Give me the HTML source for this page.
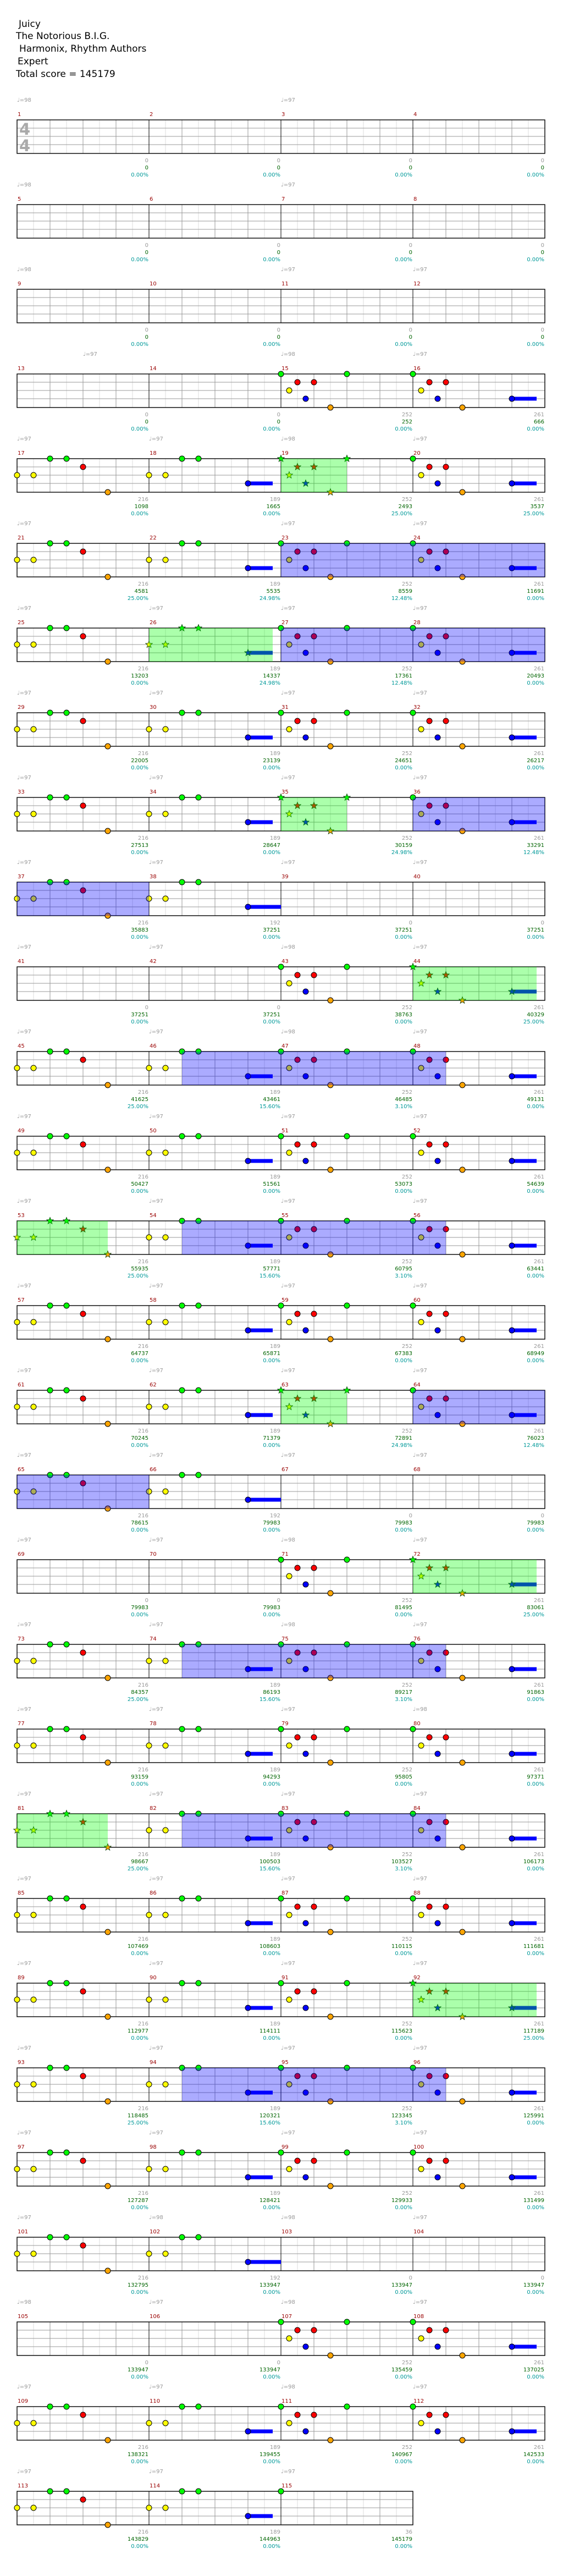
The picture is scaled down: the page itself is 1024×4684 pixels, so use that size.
<!DOCTYPE html>
<html><head><meta charset="utf-8">
<style>
html,body{margin:0;padding:0;background:#fff;}
body{width:1024px;height:4684px;overflow:hidden;}
svg{display:block;}
svg text{font-family:"DejaVu Sans","Liberation Sans",sans-serif;}
</style></head>
<body>
<div id="c"></div>
<script>
(function(){
var L=31,MW=240,EW=30,PITCH=154;
var out=[];
out.push('<svg xmlns="http://www.w3.org/2000/svg" width="1024" height="4684" viewBox="0 0 1024 4684">');
out.push('<rect width="1024" height="4684" fill="#fff"/>');
var tl=[["Juicy",34,49],["The Notorious B.I.G.",29,71],["Harmonix, Rhythm Authors",35,94],["Expert",32,117],["Total score = 145179",29,140]];
tl.forEach(function(t){out.push('<text x="'+t[1]+'" y="'+t[2]+'" font-size="17" fill="#000">'+t[0]+'</text>');});

var LY={G:0,R:15,Y:30,B:45,O:61};
var COL={G:"#00ff00",R:"#ff0000",Y:"#ffff00",B:"#0000ff",O:"#ffa500"};
var A=[['Y',0],['Y',1],['G',2],['G',3],['R',4],['O',5.5]];
var B=[['Y',0],['Y',1],['G',2],['G',3],['B',6,7.5]];
var Bp=[['Y',0],['Y',1],['G',2],['G',3],['B',6,8]];
var C=[['G',0],['Y',0.5],['R',1],['B',1.5],['R',2],['O',3],['G',4]];
var D=[['G',0],['Y',0.5],['R',1],['B',1.5],['R',2],['O',3],['B',6,7.5]];
var F=[['G',0]];
var N=null;
var pat={};
for(var m=1;m<=14;m++)pat[m]=N;
pat[15]=C;pat[16]=D;
function abcd(s){pat[s]=A;pat[s+1]=B;pat[s+2]=C;pat[s+3]=D;}
[17,21,25,29,33,45,49,53,57,61,73,77,81,85,89,93,97,109].forEach(abcd);
pat[37]=A;pat[38]=Bp;pat[39]=N;pat[40]=N;
pat[41]=N;pat[42]=N;pat[43]=C;pat[44]=D;
pat[65]=A;pat[66]=Bp;pat[67]=N;pat[68]=N;
pat[69]=N;pat[70]=N;pat[71]=C;pat[72]=D;
pat[101]=A;pat[102]=Bp;pat[103]=N;pat[104]=N;
pat[105]=N;pat[106]=N;pat[107]=C;pat[108]=D;
pat[113]=A;pat[114]=B;pat[115]=F;
var stars={19:1,26:1,35:1,44:1,53:1,63:1,72:1,81:1,92:1};

var S={};
for(m=1;m<=14;m++)S[m]=[0,0,"0.00%"];
var sd=[
[15,252,252,"0.00%"],[16,261,666,"0.00%"],
[17,216,1098,"0.00%"],[18,189,1665,"0.00%"],[19,252,2493,"25.00%"],[20,261,3537,"25.00%"],
[21,216,4581,"25.00%"],[22,189,5535,"24.98%"],[23,252,8559,"12.48%"],[24,261,11691,"0.00%"],
[25,216,13203,"0.00%"],[26,189,14337,"24.98%"],[27,252,17361,"12.48%"],[28,261,20493,"0.00%"],
[29,216,22005,"0.00%"],[30,189,23139,"0.00%"],[31,252,24651,"0.00%"],[32,261,26217,"0.00%"],
[33,216,27513,"0.00%"],[34,189,28647,"0.00%"],[35,252,30159,"24.98%"],[36,261,33291,"12.48%"],
[37,216,35883,"0.00%"],[38,192,37251,"0.00%"],[39,0,37251,"0.00%"],[40,0,37251,"0.00%"],
[41,0,37251,"0.00%"],[42,0,37251,"0.00%"],[43,252,38763,"0.00%"],[44,261,40329,"25.00%"],
[45,216,41625,"25.00%"],[46,189,43461,"15.60%"],[47,252,46485,"3.10%"],[48,261,49131,"0.00%"],
[49,216,50427,"0.00%"],[50,189,51561,"0.00%"],[51,252,53073,"0.00%"],[52,261,54639,"0.00%"],
[53,216,55935,"25.00%"],[54,189,57771,"15.60%"],[55,252,60795,"3.10%"],[56,261,63441,"0.00%"],
[57,216,64737,"0.00%"],[58,189,65871,"0.00%"],[59,252,67383,"0.00%"],[60,261,68949,"0.00%"],
[61,216,70245,"0.00%"],[62,189,71379,"0.00%"],[63,252,72891,"24.98%"],[64,261,76023,"12.48%"],
[65,216,78615,"0.00%"],[66,192,79983,"0.00%"],[67,0,79983,"0.00%"],[68,0,79983,"0.00%"],
[69,0,79983,"0.00%"],[70,0,79983,"0.00%"],[71,252,81495,"0.00%"],[72,261,83061,"25.00%"],
[73,216,84357,"25.00%"],[74,189,86193,"15.60%"],[75,252,89217,"3.10%"],[76,261,91863,"0.00%"],
[77,216,93159,"0.00%"],[78,189,94293,"0.00%"],[79,252,95805,"0.00%"],[80,261,97371,"0.00%"],
[81,216,98667,"25.00%"],[82,189,100503,"15.60%"],[83,252,103527,"3.10%"],[84,261,106173,"0.00%"],
[85,216,107469,"0.00%"],[86,189,108603,"0.00%"],[87,252,110115,"0.00%"],[88,261,111681,"0.00%"],
[89,216,112977,"0.00%"],[90,189,114111,"0.00%"],[91,252,115623,"0.00%"],[92,261,117189,"25.00%"],
[93,216,118485,"25.00%"],[94,189,120321,"15.60%"],[95,252,123345,"3.10%"],[96,261,125991,"0.00%"],
[97,216,127287,"0.00%"],[98,189,128421,"0.00%"],[99,252,129933,"0.00%"],[100,261,131499,"0.00%"],
[101,216,132795,"0.00%"],[102,192,133947,"0.00%"],[103,0,133947,"0.00%"],[104,0,133947,"0.00%"],
[105,0,133947,"0.00%"],[106,0,133947,"0.00%"],[107,252,135459,"0.00%"],[108,261,137025,"0.00%"],
[109,216,138321,"0.00%"],[110,189,139455,"0.00%"],[111,252,140967,"0.00%"],[112,261,142533,"0.00%"],
[113,216,143829,"0.00%"],[114,189,144963,"0.00%"],[115,36,145179,"0.00%"]];
sd.forEach(function(d){S[d[0]]=[d[1],d[2],d[3]];});

var T=[];
T[0]=[[0,98],[2,97]];
T[1]=[[0,98],[2,97]];
T[2]=[[0,98],[2,97],[3,97]];
T[3]=[[0.5,97],[2,98],[3,97]];
T[4]=[[0,97],[1,97],[2,98],[3,97]];
T[5]=[[0,97],[2,97],[3,97]];
for(var r=6;r<=28;r++)T[r]=[[0,97],[1,97],[2,97],[3,97]];
T[10]=[[0,97],[1,97],[2,98],[3,97]];
T[11]=[[0,97],[1,97],[2,98],[3,97]];
T[17]=[[0,97],[1,97],[2,98],[3,97]];
T[18]=[[0,97],[1,97],[2,98],[3,97]];
T[19]=[[0,97],[1,97],[2,97],[3,98]];
T[25]=[[0,97],[1,98],[2,98],[3,97]];
T[26]=[[0,98],[1,97],[2,98],[3,97]];
T[27]=[[0,97],[1,97],[2,98],[3,97]];
T[28]=[[0,97],[1,97],[2,97]];

var regs=[
[19,0,19,4,'g'],[26,0,26,7.5,'g'],[35,0,35,4,'g'],[44,0,44,7.5,'g'],[53,0,53,5.5,'g'],[63,0,63,4,'g'],[72,0,72,7.5,'g'],[81,0,81,5.5,'g'],[92,0,92,7.5,'g'],
[23,0,24,8,'b'],[27,0,28,8,'b'],[36,0,36,8,'b'],[37,0,37,8,'b'],[46,2,48,2,'b'],[54,2,56,2,'b'],[64,0,64,8,'b'],[65,0,65,8,'b'],[74,2,76,2,'b'],[82,2,84,2,'b'],[94,2,96,2,'b']];

function mx(m){return L+((m-1)%4)*MW;}
function rowTop(m){return 218+Math.floor((m-1)/4)*PITCH;}
function star(cx,cy,fill){
  var p=[];for(var i=0;i<10;i++){var a=-Math.PI/2+i*Math.PI/5;var rr=i%2?2.7:6.5;p.push((cx+rr*Math.cos(a)).toFixed(1)+','+(cy+rr*Math.sin(a)).toFixed(1));}
  return '<polygon points="'+p.join(' ')+'" fill="'+fill+'" stroke="#003300" stroke-width="0.8"/>';
}

for(r=0;r<=28;r++){
  var top=218+r*PITCH;
  var nm=(r==28)?3:4;
  var w=nm*MW;
  T[r].forEach(function(t){
    var x=L+t[0]*MW;
    out.push('<text x="'+x+'" y="'+(top-33)+'" font-size="10" fill="#999">\u2669=<tspan>'+t[1]+'</tspan></text>');
  });
  for(var i=1;i<nm*8;i++){
    var x=L+i*EW;
    if(i%8==0)continue;
    var c=(i%2==0)?"#999":"#dcdcdc";
    out.push('<line x1="'+x+'" y1="'+top+'" x2="'+x+'" y2="'+(top+61)+'" stroke="'+c+'" stroke-width="1"/>');
  }
  [15,30,45].forEach(function(dy){out.push('<line x1="'+L+'" y1="'+(top+dy)+'" x2="'+(L+w)+'" y2="'+(top+dy)+'" stroke="#999" stroke-width="1"/>');});
  for(i=1;i<nm;i++){var x2=L+i*MW;out.push('<line x1="'+x2+'" y1="'+top+'" x2="'+x2+'" y2="'+(top+61)+'" stroke="#000" stroke-width="1"/>');}
  out.push('<rect x="'+L+'" y="'+top+'" width="'+w+'" height="61" fill="none" stroke="#000" stroke-width="1.4"/>');
  if(r==0){
    out.push('<text x="35" y="245" font-size="29" font-weight="bold" fill="#aaa">4</text>');
    out.push('<text x="35" y="275" font-size="29" font-weight="bold" fill="#aaa">4</text>');
  }
  for(var k=0;k<nm;k++){
    var m=r*4+k+1;
    var x0=L+k*MW;
    out.push('<text x="'+(x0+1)+'" y="'+(top-7)+'" font-size="10" fill="#990000">'+m+'</text>');
    var s=S[m];
    var xe=x0+MW-1;
    out.push('<text x="'+xe+'" y="'+(top+77)+'" font-size="10" fill="#999" text-anchor="end">'+s[0]+'</text>');
    out.push('<text x="'+xe+'" y="'+(top+90)+'" font-size="10" fill="#006400" text-anchor="end">'+s[1]+'</text>');
    out.push('<text x="'+xe+'" y="'+(top+103)+'" font-size="10" fill="#009999" text-anchor="end">'+s[2]+'</text>');
    var p=pat[m];
    if(!p)continue;
    p.forEach(function(n){
      if(n[2]!==undefined){
        var xa=x0+n[1]*EW,xb=x0+n[2]*EW,y=top+LY[n[0]];
        out.push('<rect x="'+xa+'" y="'+(y-3.5)+'" width="'+(xb-xa)+'" height="7" fill="'+COL[n[0]]+'"/>');
      }
    });
    p.forEach(function(n){
      var cx=x0+n[1]*EW,cy=top+LY[n[0]];
      if(stars[m])out.push(star(cx,cy,COL[n[0]]));
      else out.push('<circle cx="'+cx+'" cy="'+cy+'" r="5" fill="'+COL[n[0]]+'" stroke="#000" stroke-width="1"/>');
    });
  }
}
regs.forEach(function(g){
  var xa=mx(g[0])+g[1]*EW, xb=mx(g[2])+g[3]*EW, top=rowTop(g[0]);
  var f=g[4]=='g'?'rgba(0,255,0,0.33)':'rgba(0,0,255,0.33)';
  out.push('<rect x="'+xa+'" y="'+top+'" width="'+(xb-xa)+'" height="61" fill="'+f+'"/>');
});
out.push('</svg>');
document.getElementById('c').innerHTML=out.join('');
})();
</script>
</body></html>
